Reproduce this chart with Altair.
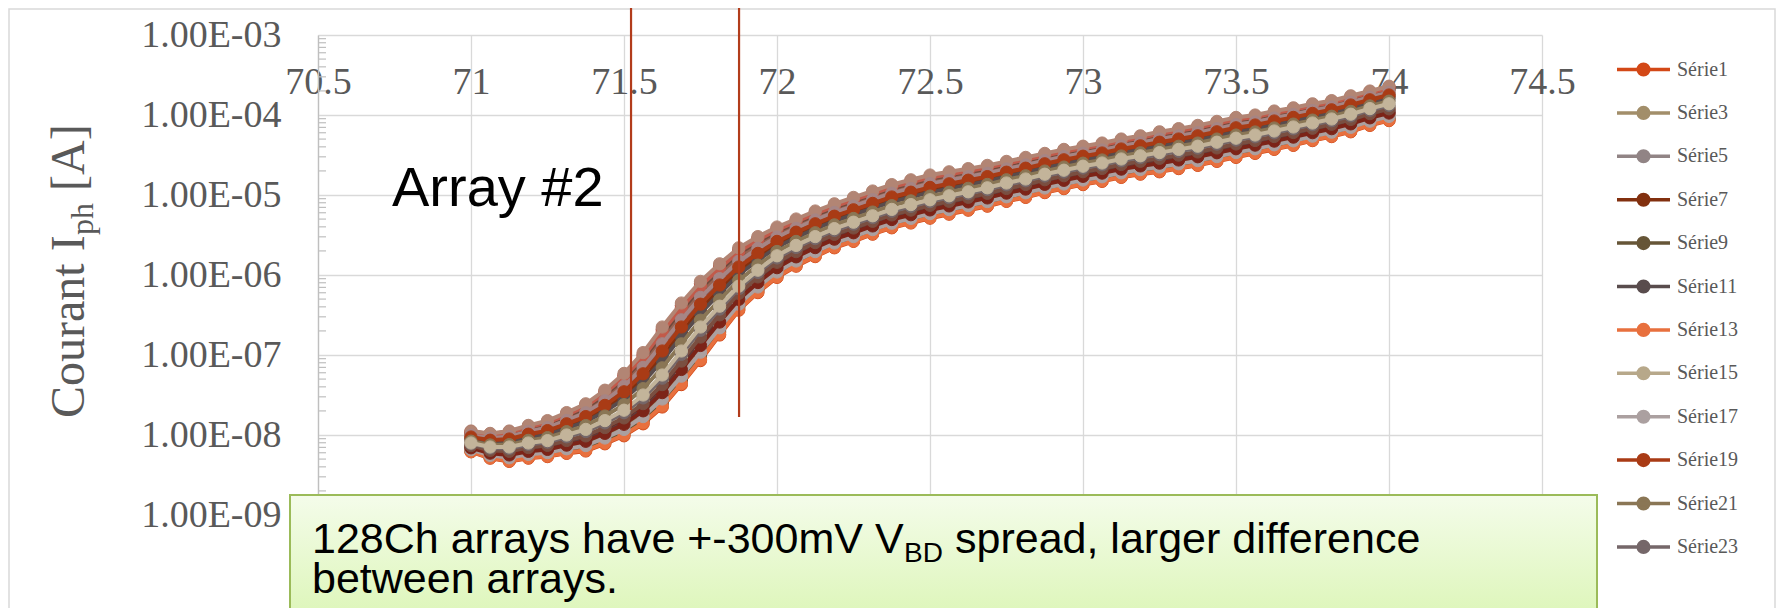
import altair as alt
import pandas as pd

# ---------------- data ----------------
SERIES = ["Série%d" % i for i in range(1, 25)]
LEGEND_SERIES = SERIES[0::2]
COLORS = ["#D34817", "#9B2D1F", "#A28E6A", "#956251", "#918485", "#855D5D",
          "#82300F", "#6E2016", "#665537", "#70493C", "#594C4D", "#5A3E3E",
          "#E8703E", "#C25A4A", "#B7A88A", "#B28574", "#ABA0A0", "#A68585",
          "#A93B15", "#7C2418", "#8A7655", "#7A4F41", "#756769", "#C3B49A"]

VOLTS = [71.0, 71.0625, 71.125, 71.1875, 71.25, 71.3125, 71.375, 71.4375,
         71.5, 71.5625, 71.625, 71.6875, 71.75, 71.8125, 71.875, 71.9375,
         72.0, 72.0625, 72.125, 72.1875, 72.25, 72.3125, 72.375, 72.4375,
         72.5, 72.5625, 72.625, 72.6875, 72.75, 72.8125, 72.875, 72.9375,
         73.0, 73.0625, 73.125, 73.1875, 73.25, 73.3125, 73.375, 73.4375,
         73.5, 73.5625, 73.625, 73.6875, 73.75, 73.8125, 73.875, 73.9375, 74.0]

# log10 of the current of the central (top-most, beige) curve
CENTER_LOG10 = [-8.10, -8.15, -8.15, -8.10, -8.07, -8.00, -7.93, -7.82,
                -7.69, -7.50, -7.25, -6.95, -6.65, -6.39, -6.14, -5.94,
                -5.76, -5.63, -5.52, -5.42, -5.34, -5.26, -5.18, -5.12,
                -5.06, -5.01, -4.96, -4.91, -4.85, -4.80, -4.74, -4.69,
                -4.64, -4.60, -4.55, -4.51, -4.47, -4.43, -4.39, -4.34,
                -4.29, -4.25, -4.20, -4.15, -4.10, -4.05, -3.99, -3.92, -3.86]
# spread of the bundle above / below the central curve (decades)
SPREAD_UP = [0.15, 0.17, 0.20, 0.22, 0.25, 0.28, 0.32, 0.38,
             0.46, 0.53, 0.60, 0.60, 0.57, 0.53, 0.48, 0.42,
             0.36, 0.33, 0.32, 0.31, 0.31, 0.31, 0.31, 0.31,
             0.31, 0.30, 0.29, 0.28, 0.27, 0.27, 0.26, 0.26,
             0.25, 0.25, 0.25, 0.25, 0.26, 0.26, 0.26, 0.26,
             0.26, 0.25, 0.25, 0.24, 0.24, 0.23, 0.23, 0.22, 0.22]
SPREAD_DOWN = [0.11, 0.14, 0.18, 0.19, 0.20, 0.23, 0.27, 0.29,
               0.32, 0.36, 0.40, 0.42, 0.42, 0.36, 0.30, 0.28,
               0.27, 0.26, 0.25, 0.24, 0.24, 0.23, 0.23, 0.23,
               0.23, 0.23, 0.23, 0.23, 0.23, 0.23, 0.23, 0.23,
               0.23, 0.23, 0.23, 0.23, 0.24, 0.24, 0.24, 0.24,
               0.24, 0.23, 0.23, 0.23, 0.22, 0.22, 0.22, 0.21, 0.21]
# relative position of each series inside the bundle (+1 top, -1 bottom)
SERIES_POS = [-1.0, 0.95, -0.65, 0.75, -0.85, 0.55, 0.4, -0.35, -0.9, 0.85, 0.3, -0.5,
              -0.97, 0.9, -0.2, 1.0, -0.75, 0.65, 0.5, -0.55, 0.15, -0.3, -0.1, 0.0]

X_TICKS = [70.5, 71, 71.5, 72, 72.5, 73, 73.5, 74, 74.5]
Y_TICKS = [1e-9, 1e-8, 1e-7, 1e-6, 1e-5, 1e-4, 1e-3]
MINOR_MULT = [2, 3, 4, 5, 6, 7, 8, 9]
MINOR_DECADES = [1e-9, 1e-8, 1e-7, 1e-6, 1e-5, 1e-4]

VBD_V = [71.523, 71.876]
VBD_TOP = [3e-3, 3e-3]
VBD_BOTTOM = [2.05e-8, 1.68e-8]

rows = []
for name, k in zip(SERIES, SERIES_POS):
    for v, c, up, dn in zip(VOLTS, CENTER_LOG10, SPREAD_UP, SPREAD_DOWN):
        lg = c + (k * up if k >= 0 else k * dn)
        rows.append({"series": name, "V": v, "I": 10 ** lg})
df = pd.DataFrame(rows)

minor_df = pd.DataFrame({"I": [m * d for d in MINOR_DECADES for m in MINOR_MULT]})
vbd_df = pd.DataFrame({"V": VBD_V, "I": VBD_TOP, "I2": VBD_BOTTOM})
one = pd.DataFrame({"a": [0]})

GRID = "#D9D9D9"
GREY_TXT = "#595959"
SERIF = "Liberation Serif"
SANS = "Liberation Sans"

x_enc = alt.X("V:Q", scale=alt.Scale(domain=[70.5, 74.5], nice=False, zero=False),
              axis=alt.Axis(orient="top", values=X_TICKS, format="~g", title=None,
                            grid=True, gridColor=GRID, gridWidth=1.3, domain=False,
                            ticks=False, labelPadding=-47, labelBaseline="middle",
                            labelFont=SERIF, labelFontSize=38, labelColor=GREY_TXT,
                            labelFlush=False, labelOverlap=False))
y_enc = alt.Y("I:Q", scale=alt.Scale(type="log", domain=[1e-9, 1e-3], nice=False),
              axis=alt.Axis(values=Y_TICKS,
                            labelExpr="'1.00E-0' + round(-log(datum.value) / LN10)",
                            title=None, grid=True, gridColor=GRID, gridWidth=1.3,
                            domain=True, domainColor="#BFBFBF", domainWidth=1.3,
                            ticks=False, labelPadding=37, labelFont=SERIF,
                            labelFontSize=38, labelColor=GREY_TXT,
                            labelFlush=False, labelOverlap=False))

LEG_PATH = "M-1,0H1M0.2,0A0.2,0.2,0,1,1,-0.2,0A0.2,0.2,0,1,1,0.2,0Z"
legend = alt.Legend(values=LEGEND_SERIES, title=None, orient="none",
                    legendX=1297, legendY=6, symbolType=LEG_PATH, symbolSize=2809,
                    symbolStrokeWidth=3.5, symbolOpacity=1, labelFont=SERIF,
                    labelFontSize=20, labelColor=GREY_TXT, labelOffset=5,
                    rowPadding=2.4, columns=1)
color_scale = alt.Scale(domain=SERIES, range=COLORS)

layers = []
# outer frame
layers.append(alt.Chart(one).mark_rect(filled=False, stroke=GRID, strokeWidth=1.5).encode(
    x=alt.value(-309), x2=alt.value(1457), y=alt.value(-26), y2=alt.value(600)))
# minor log ticks
layers.append(alt.Chart(minor_df).mark_rule(color="#BFBFBF", strokeWidth=1.2).encode(
    y=y_enc, x=alt.value(0), x2=alt.value(8)))

for name, col in zip(SERIES, COLORS):
    base = alt.Chart(df).transform_filter(alt.datum.series == name)
    layers.append(base.mark_line(color=col, strokeWidth=4, opacity=1).encode(x=x_enc, y=y_enc))
    layers.append(base.mark_point(filled=True, size=150, strokeWidth=1, opacity=1).encode(
        x=x_enc, y=y_enc,
        fill=alt.Fill("series:N", scale=color_scale, legend=legend),
        stroke=alt.Stroke("series:N", scale=color_scale, legend=legend)))

# V_BD markers
layers.append(alt.Chart(vbd_df).mark_rule(color="#B23C1B", strokeWidth=2.2).encode(
    x=x_enc, y=y_enc, y2=alt.Y2("I2:Q")))

# "Array #2"
layers.append(alt.Chart(one).mark_text(text="Array #2", font=SANS, fontSize=56,
                                        align="left", baseline="alphabetic", color="black").encode(
    x=alt.value(74), y=alt.value(171)))

# y-axis title with subscript
title_parts = [("Courant I", 48, -234, 383), ("ph", 32, -225, 200), ("[A]", 48, -234, 156)]
for txt, fs, xx, yy in title_parts:
    layers.append(alt.Chart(one).mark_text(text=txt, font=SERIF, fontSize=fs, angle=270,
                                            align="left", baseline="alphabetic",
                                            color=GREY_TXT).encode(
        x=alt.value(xx), y=alt.value(yy)))

# green call-out box
grad = alt.LinearGradient(gradient="linear",
                          stops=[alt.GradientStop(color="#F4FCEA", offset=0),
                                 alt.GradientStop(color="#D6F4AA", offset=1)],
                          x1=0, x2=0, y1=0, y2=1)
layers.append(alt.Chart(one).mark_rect(fill=grad, stroke="#9BBB59", strokeWidth=2).encode(
    x=alt.value(-28), x2=alt.value(1279), y=alt.value(460), y2=alt.value(620)))
box_texts = [("128Ch arrays have +-300mV V", 43, -6, 518),
             ("BD", 28, 586, 527),
             ("spread, larger difference", 43, 637, 518),
             ("between arrays.", 43, -6, 558)]
for txt, fs, xx, yy in box_texts:
    layers.append(alt.Chart(one).mark_text(text=txt, font=SANS, fontSize=fs,
                                            align="left", baseline="alphabetic",
                                            color="black").encode(
        x=alt.value(xx), y=alt.value(yy)))

chart = alt.layer(*layers).properties(
    width=1224, height=480,
    padding={"left": 310, "top": 27, "right": 235, "bottom": 93},
    autosize=alt.AutoSizeParams(type="none"),
    background="white",
).configure_view(strokeWidth=0)

chart.save("out.html", embed_options={"renderer": "svg", "actions": False})
